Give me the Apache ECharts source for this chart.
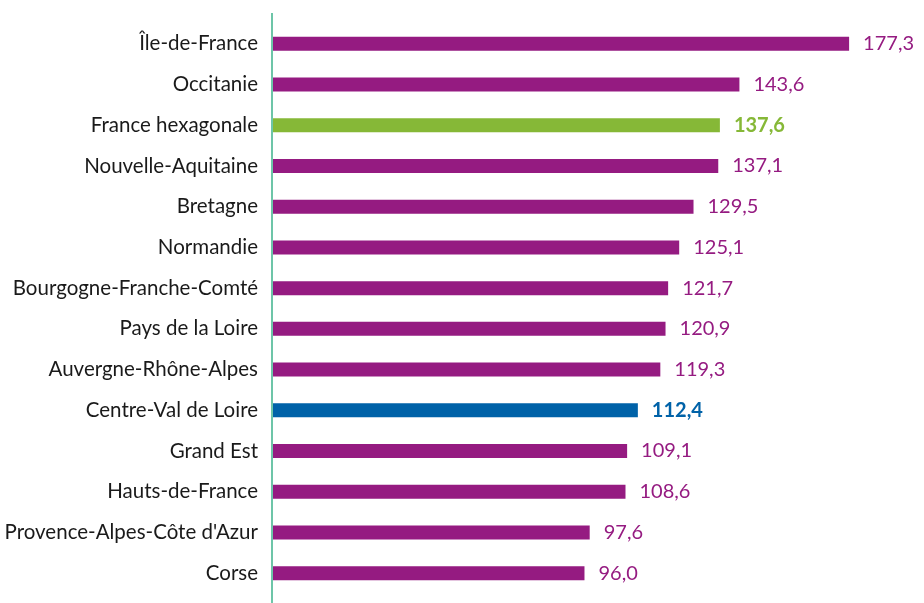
<!DOCTYPE html>
<html>
<head>
<meta charset="utf-8">
<script src="https://cdn.jsdelivr.net/npm/echarts@6/dist/echarts.min.js"></script>
<style>
  html, body { margin: 0; padding: 0; background: #fff; }
  #chart { width: 924px; height: 603px; }
</style>
</head>
<body>
<div id="chart"></div>
<script>
const regions = [
  "Île-de-France", "Occitanie", "France hexagonale", "Nouvelle-Aquitaine",
  "Bretagne", "Normandie", "Bourgogne-Franche-Comté", "Pays de la Loire",
  "Auvergne-Rhône-Alpes", "Centre-Val de Loire", "Grand Est",
  "Hauts-de-France", "Provence-Alpes-Côte d'Azur", "Corse"
];
const values = [177.3, 143.6, 137.6, 137.1, 129.5, 125.1, 121.7, 120.9, 119.3, 112.4, 109.1, 108.6, 97.6, 96.0];

const PURPLE = "#951b81";
const GREEN = "#86b837";
const BLUE = "#0062a8";
const FONT = "Lato, sans-serif";

function colorFor(name) {
  if (name === "France hexagonale") return GREEN;
  if (name === "Centre-Val de Loire") return BLUE;
  return PURPLE;
}

const chart = echarts.init(document.getElementById("chart"));

chart.setOption({
  animation: false,
  grid: { left: 272, right: 1, top: 23.5, height: 570, containLabel: false },
  xAxis: {
    type: "value",
    min: 0,
    max: 200,
    show: false
  },
  yAxis: {
    type: "category",
    inverse: true,
    data: regions,
    axisLine: { show: false },
    axisTick: { show: false },
    axisLabel: {
      color: "#1a1a1a",
      fontSize: 20.5,
      fontFamily: FONT,
      margin: 14
    }
  },
  graphic: [{
    type: "rect",
    shape: { x: 271, y: 13, width: 2, height: 590 },
    style: { fill: "#6dc5a8" },
    z: 10
  }],
  series: [{
    type: "bar",
    barWidth: 14,
    data: values.map((v, i) => {
      const c = colorFor(regions[i]);
      const bold = c !== PURPLE;
      return {
        value: v,
        itemStyle: { color: c },
        label: { color: c, fontWeight: bold ? "bold" : "normal" }
      };
    }),
    label: {
      show: true,
      position: "right",
      distance: 14,
      fontSize: 20,
      fontFamily: FONT,
      formatter: p => p.value.toFixed(1).replace(".", ",")
    }
  }]
});
</script>
</body>
</html>
